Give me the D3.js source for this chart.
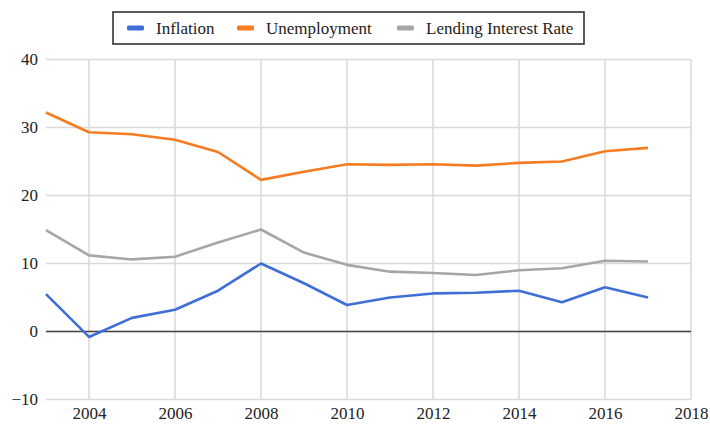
<!DOCTYPE html>
<html>
<head>
<meta charset="utf-8">
<script src="https://cdn.jsdelivr.net/npm/d3@7"></script>
<style>
  body { margin: 0; background: #fff; }
  svg { display: block; }
  svg text { font-family: "Liberation Serif", "Times New Roman", serif; }
</style>
</head>
<body>
<svg width="710" height="424"></svg>
<script>
var years = [2003, 2004, 2005, 2006, 2007, 2008, 2009, 2010, 2011, 2012, 2013, 2014, 2015, 2016, 2017];
var inflation = [5.5, -0.8, 2.0, 3.2, 6.0, 10.0, 7.1, 3.9, 5.0, 5.6, 5.7, 6.0, 4.3, 6.5, 5.0];
var unemployment = [32.2, 29.3, 29.0, 28.2, 26.4, 22.3, 23.5, 24.6, 24.5, 24.6, 24.4, 24.8, 25.0, 26.5, 27.0];
var lending = [14.9, 11.2, 10.6, 11.0, 13.1, 15.0, 11.6, 9.8, 8.8, 8.6, 8.3, 9.0, 9.3, 10.4, 10.3];
var seriesNames = ["Inflation", "Unemployment", "Lending Interest Rate"];
var colors = ["#3f6fd6", "#f57c22", "#a6a6a6"];
var yTicks = [-10, 0, 10, 20, 30, 40];
var xTicks = [2004, 2006, 2008, 2010, 2012, 2014, 2016, 2018];
var serif = "'Liberation Serif', 'Times New Roman', serif";

var svg = d3.select("svg");
var x = d3.scaleLinear().domain([2003, 2018]).range([46, 691]);
var y = d3.scaleLinear().domain([-10, 40]).range([399.5, 59.5]);

// grid
svg.append("g").selectAll("line").data(yTicks).join("line")
  .attr("x1", x(2003)).attr("x2", x(2018))
  .attr("y1", function(d){ return y(d); }).attr("y2", function(d){ return y(d); })
  .attr("stroke", "#d9d9d9").attr("stroke-width", 1.5);
svg.append("g").selectAll("line").data(xTicks).join("line")
  .attr("x1", function(d){ return x(d); }).attr("x2", function(d){ return x(d); })
  .attr("y1", y(40)).attr("y2", y(-10))
  .attr("stroke", "#d9d9d9").attr("stroke-width", 1.5);

// zero line
svg.append("line")
  .attr("x1", x(2003)).attr("x2", x(2018))
  .attr("y1", y(0)).attr("y2", y(0))
  .attr("stroke", "#444").attr("stroke-width", 1.3);

// axes labels
var yAxis = d3.axisLeft(y).tickValues(yTicks).tickSize(0).tickPadding(8)
  .tickFormat(function(d){ return d < 0 ? "\u2212" + Math.abs(d) : d; });
svg.append("g").attr("transform", "translate(" + x(2003) + ",0)").call(yAxis)
  .call(function(g){ g.select(".domain").remove(); })
  .selectAll("text").attr("fill", "#222")
  .style("font-family", serif).style("font-size", "17px");

var xAxis = d3.axisBottom(x).tickValues(xTicks).tickSize(0).tickPadding(7)
  .tickFormat(d3.format("d"));
svg.append("g").attr("transform", "translate(0," + y(-10) + ")").call(xAxis)
  .call(function(g){ g.select(".domain").remove(); })
  .selectAll("text").attr("fill", "#222")
  .style("font-family", serif).style("font-size", "17px");

// lines
var allSeries = [inflation, unemployment, lending];
var line = d3.line()
  .x(function(d, i){ return x(years[i]); })
  .y(function(d){ return y(d); });
svg.append("g").selectAll("path").data([2, 1, 0]).join("path")
  .attr("d", function(k){ return line(allSeries[k]); })
  .attr("fill", "none")
  .attr("stroke", function(k){ return colors[k]; })
  .attr("stroke-width", 2.6)
  .attr("stroke-linejoin", "round");

// legend
var legend = svg.append("g");
legend.append("rect")
  .attr("x", 113).attr("y", 12).attr("width", 471).attr("height", 32)
  .attr("fill", "#fff").attr("stroke", "#333").attr("stroke-width", 1.6);
var legX = [127, 237, 397];
var items = legend.selectAll("g.item").data(seriesNames).join("g")
  .attr("transform", function(d, i){ return "translate(" + legX[i] + ",28)"; });
items.append("rect")
  .attr("x", 0).attr("y", -2.5).attr("width", 17).attr("height", 5).attr("rx", 1.5)
  .attr("fill", function(d, i){ return colors[i]; });
items.append("text")
  .attr("x", 29).attr("y", 6)
  .attr("fill", "#222")
  .style("font-family", serif).style("font-size", "17px")
  .text(function(d){ return d; });
</script>
</body>
</html>
